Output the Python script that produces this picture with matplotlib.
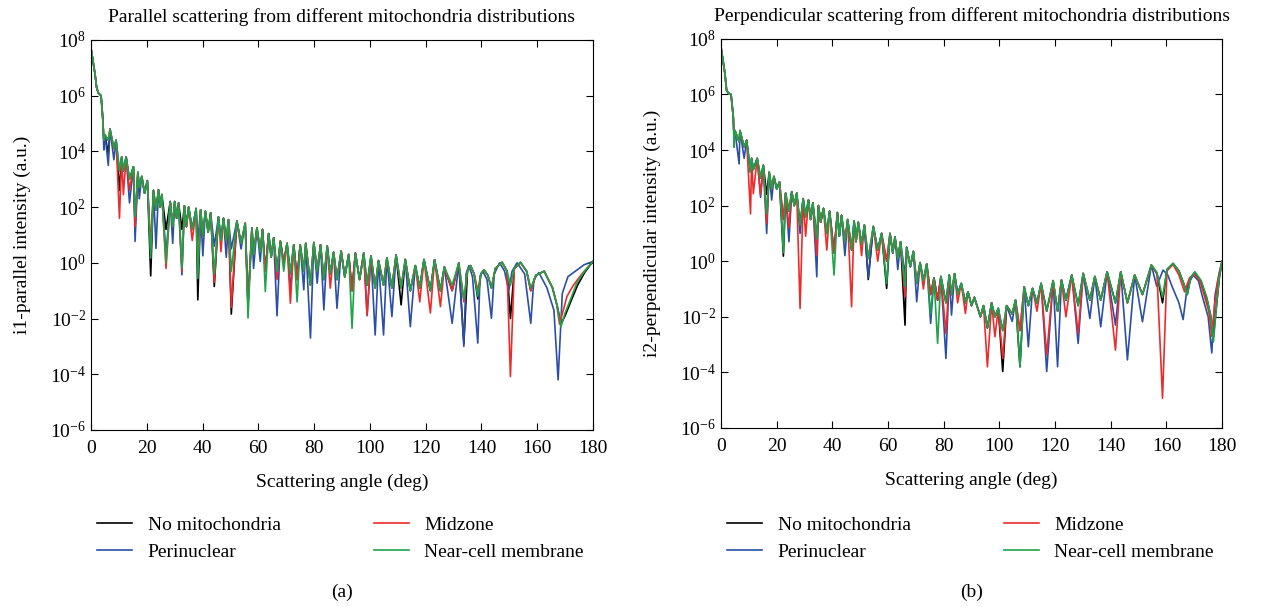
import numpy as np
import matplotlib
matplotlib.use("Agg")
import matplotlib.pyplot as plt

plt.rcParams["font.family"] = ["Liberation Serif", "DejaVu Serif"]
plt.rcParams["mathtext.fontset"] = "stix"

names = ["No mitochondria", "Perinuclear", "Midzone", "Near-cell membrane"]
colors = ["#000000", "#2b4fa8", "#ee2b2b", "#1ea34a"]

# ---------------- panel (a): parallel, values are log10(intensity) ----------------
a_peak_ang = [0, 1.4, 2.0, 2.6, 3.6, 4.2, 5.0, 6.8, 9.0, 11.0, 12.6, 15.2, 16.8, 18.2, 20.2,
              22.4, 24.2, 25.4, 28.4, 30.0, 31.4, 33.5, 35.0, 37.7, 39.3, 41.0, 42.9, 45.7,
              47.5, 49.3, 52.3, 55.3, 57.7, 59.5, 61.5, 63.7, 65.5, 67.9, 70.3, 72.7, 75.0,
              77.0, 79.9, 82.3, 84.7, 87.0, 89.7, 92.4, 94.8, 97.8, 100.4, 103.1, 106.1,
              109.4, 112.7, 116.3, 119.4, 123.2, 126.7, 131.9]
a_peak_val = [7.7, 6.8, 6.3, 6.1, 6.0, 5.2, 4.6, 4.8, 4.4, 3.8, 3.8, 3.45, 3.25, 3.1, 2.95,
              2.6, 2.62, 2.45, 2.2, 2.2, 2.15, 2.05, 2.0, 1.95, 1.9, 1.85, 1.8, 1.65,
              1.6, 1.55, 1.5, 1.42, 1.25, 1.26, 1.2, 1.05, 0.9, 0.78, 0.7, 0.65, 0.65,
              0.7, 0.73, 0.65, 0.6, 0.38, 0.42, 0.3, 0.35, 0.35, 0.25, 0.08, 0.18,
              0.28, 0.12, -0.1, 0.12, 0.11, -0.15, 0.0]
a_dip_ang = [4.6, 6.2, 8.2, 10.2, 11.6, 13.8, 15.8, 17.3, 19.2, 21.4, 23.3, 24.8, 26.9, 29.3,
             30.7, 32.6, 34.2, 36.3, 38.3, 40.1, 42.0, 44.2, 46.6, 48.5, 50.3, 53.8, 56.3,
             58.3, 60.7, 62.5, 64.6, 66.7, 69.1, 71.5, 73.9, 76.3, 78.7, 81.1, 83.5, 85.8,
             88.2, 91.0, 93.6, 96.3, 99.0, 101.9, 104.9, 107.9, 111.2, 114.5, 117.9, 121.7,
             125.3, 129.5]
a_dip_val = [4.4, 4.4, 4.1, 3.3, 3.3, 3.0, 2.6, 2.7, 2.5, 1.5, 1.9, 2.0, 1.2, 1.3,
             1.6, 1.2, 1.3, 1.2, 0.8, 1.0, 1.1, 0.6, 0.8, 0.8, 0.5, 0.7, -1.5,
             0.3, 0.4, -0.3, 0.2, -0.3, 0.0, -0.4, -0.6, -0.3, -0.8, -0.3, -0.6, -0.4,
             -0.6, -0.5, -1.0, -0.6, -0.8, -0.9, -0.8, -0.9, -0.9, -1.0, -0.9, -1.0,
             -1.0, -1.0]
a_deep = {
    "No mitochondria": {6.2: 3.9, 10.2: 2.6, 15.8: 1.3, 21.4: -0.47, 38.3: -1.33, 44.2: -0.85,
                        50.3: -1.84, 111.2: -1.51},
    "Perinuclear": {4.6: 4.05, 6.2: 3.5, 8.2: 3.7, 13.8: 2.15, 15.8: 0.77, 17.3: 2.3, 21.4: 0.5,
                    23.3: 0.52, 26.9: 0.3, 29.3: 0.7, 32.6: -0.43, 40.1: 0.25, 48.5: 0.2,
                    53.8: 0.5, 58.3: -0.2, 60.7: 0.05, 66.7: -1.9, 71.5: -1.0, 76.3: -0.97,
                    78.7: -2.7, 81.1: -0.73, 83.5: -1.69, 88.2: -1.63, 99.0: -1.9,
                    101.9: -2.59, 104.9: -2.59, 107.9: -1.93, 114.5: -2.29, 129.5: -2.17},
    "Midzone": {10.2: 1.6, 11.6: 2.45, 13.8: 2.6, 15.8: 1.3, 21.4: 0.5, 26.9: -0.2, 32.6: -0.3,
                36.3: 0.8, 38.3: -0.3, 44.2: -0.7, 46.6: 0.4, 50.3: -1.6, 66.7: -0.6,
                71.5: -1.45, 85.8: -0.91, 99.0: -1.87, 117.9: -1.4, 121.7: -1.8, 125.3: -1.57},
    "Near-cell membrane": {15.8: 1.66, 21.4: 0.17, 26.9: 0.0, 32.6: -0.2, 38.3: -0.56, 44.2: -0.4,
                           50.3: -0.3, 56.3: -1.98, 62.5: -1.03, 69.1: -0.3, 73.9: -1.4,
                           93.6: -2.35, 129.5: -0.8},
}
a_tail_start = 133
a_tail = {
    "No mitochondria": ([133.7, 135.0, 136.1, 137.4, 138.7, 139.8, 140.9, 142.3, 143.6, 145.0,
                         147.4, 149.2, 150.4, 151.8, 154.0, 156.2, 157.7, 159.5, 162.5, 165.5,
                         167.3, 168.5, 170.0, 172.0, 174.5, 177.0, 180],
                        [-2.9, -0.3, -0.1, -0.4, -1.3, -0.4, -0.25, -0.45, -0.91, -0.2,
                         0.02, -0.3, -2.0, -0.2, 0.02, -0.3, -1.0, -0.45, -0.3, -0.9,
                         -1.6, -2.2, -1.9, -1.4, -0.8, -0.35, 0.05]),
    "Perinuclear": ([133.7, 134.5, 135.5, 136.8, 138.7, 139.5, 140.5, 142.0, 143.6, 144.6,
                     146.5, 148.3, 149.8, 151.0, 152.8, 155.5, 157.7, 158.8, 160.6, 163.5,
                     166.0, 167.5, 169.0, 171.0, 174.4, 176.8, 180],
                    [-3.0, -0.4, -0.1, -0.5, -2.88, -0.5, -0.3, -0.6, -1.99, -0.4,
                     0.0, -0.3, -1.0, -0.3, 0.0, -0.4, -2.17, -0.6, -0.35, -0.9,
                     -1.7, -4.2, -1.1, -0.5, -0.25, -0.07, 0.05]),
    "Midzone": ([133.7, 135.0, 136.1, 137.4, 138.7, 139.8, 140.9, 142.3, 143.6, 145.0,
                 147.4, 149.2, 150.4, 151.8, 154.0, 156.2, 157.7, 159.5, 162.5, 165.5,
                 167.0, 168.0, 170.7, 173.0, 176.0, 180],
                [-1.4, -0.3, -0.1, -0.4, -1.0, -0.4, -0.25, -0.45, -0.9, -0.2,
                 0.02, -0.3, -4.08, -0.2, 0.0, -0.3, -1.0, -0.45, -0.3, -0.9,
                 -1.5, -2.2, -1.2, -0.8, -0.4, 0.05]),
    "Near-cell membrane": ([133.7, 135.0, 136.1, 137.4, 138.7, 139.8, 140.9, 142.3, 143.6, 145.0,
                            147.4, 149.2, 150.4, 151.8, 154.0, 156.2, 157.7, 159.5, 162.5, 165.5,
                            167.3, 168.5, 170.0, 172.0, 174.3, 177.0, 180],
                           [-1.3, -0.3, -0.1, -0.4, -1.2, -0.4, -0.25, -0.45, -0.91, -0.2,
                            0.02, -0.3, -0.8, -0.2, 0.02, -0.3, -0.9, -0.45, -0.3, -0.9,
                            -1.6, -2.3, -1.8, -1.3, -0.7, -0.3, 0.05]),
}

# ---------------- panel (b): perpendicular ----------------
b_peak_ang = [0, 1.4, 2.0, 2.6, 3.6, 4.4, 5.0, 6.8, 9.2, 11.0, 13.0, 15.2, 17.3, 19.0, 21.0,
              23.2, 25.4, 27.2, 29.5, 31.4, 33.0, 35.0, 36.8, 39.0, 41.8, 43.3, 45.5, 47.8,
              49.3, 51.5, 54.7, 57.7, 60.7, 62.5, 64.5, 66.7, 69.1, 71.5, 73.9, 76.5, 79.0,
              82.0, 83.9, 86.3, 88.7, 91.0, 94.3, 97.2, 99.6, 102.6, 105.8, 108.9, 111.9,
              115.0, 119.3, 122.3, 126.0, 130.1, 134.3, 138.7, 143.6, 148.6, 154.6]
b_peak_val = [7.7, 6.75, 6.15, 6.05, 6.0, 5.2, 4.7, 4.7, 4.35, 3.7, 3.7, 3.45, 3.2, 3.05, 2.85,
              2.45, 2.5, 2.45, 2.25, 2.2, 2.1, 2.0, 1.9, 1.8, 1.75, 1.65, 1.5, 1.45,
              1.4, 1.3, 1.25, 1.0, 1.0, 0.87, 0.7, 0.5, 0.35, -0.05, -0.1, -0.6, -0.55,
              -0.5, -0.45, -0.8, -1.1, -1.3, -1.6, -1.5, -1.7, -1.6, -1.4, -0.92, -0.98,
              -0.8, -0.7, -0.68, -0.5, -0.44, -0.55, -0.38, -0.38, -0.5, -0.14]
b_dip_ang = [4.7, 6.5, 8.3, 10.6, 11.6, 14.2, 16.4, 18.2, 20.0, 22.4, 24.4, 26.3, 28.4, 30.4,
             32.2, 34.4, 35.8, 38.0, 40.6, 42.5, 44.5, 46.9, 48.5, 50.5, 52.9, 56.3, 59.5,
             61.7, 63.5, 66.1, 68.0, 70.3, 72.7, 75.3, 77.8, 80.8, 82.8, 85.0, 87.8, 90.0,
             93.2, 95.7, 98.4, 101.2, 104.6, 107.4, 110.4, 113.5, 117.0, 120.9, 123.9,
             128.3, 132.5, 136.4, 141.7, 146.0, 151.4]
b_dip_val = [4.4, 4.3, 4.1, 3.2, 3.3, 3.0, 2.4, 2.6, 2.6, 1.5, 1.8, 2.0, 1.3, 1.6,
             1.5, 0.8, 1.4, 1.0, 0.3, 0.9, 0.7, 0.4, 0.7, 0.6, 0.1, 0.4, 0.0,
             0.3, 0.1, -0.5, -0.2, -0.8, -0.7, -1.2, -1.4, -1.5, -1.2, -1.2, -1.5, -1.6,
             -2.0, -2.4, -2.0, -2.5, -1.9, -2.5, -1.6, -1.5, -1.8, -1.8, -1.4,
             -1.6, -1.4, -1.4, -1.5, -1.5, -1.2]
b_deep = {
    "No mitochondria": {22.4: 0.18, 52.9: -0.66, 59.5: -0.98, 66.1: -2.3, 101.2: -3.97, 107.4: -3.8},
    "Perinuclear": {6.5: 3.5, 8.3: 3.7, 14.2: 2.3, 16.4: 1.0, 18.2: 2.2, 24.4: 0.7, 28.4: 1.0,
                    34.4: -0.56, 44.5: 0.2, 52.9: -0.6, 63.5: -0.3, 70.3: -1.46, 75.3: -2.24,
                    80.8: -3.5, 82.8: -1.94, 104.6: -2.17, 110.4: -3.08, 117.0: -3.97,
                    120.9: -3.8, 128.3: -2.96, 132.5: -2.06, 136.4: -2.36, 141.7: -2.3,
                    146.0: -3.55, 151.4: -2.18},
    "Midzone": {10.6: 1.7, 11.6: 2.43, 14.2: 2.4, 16.4: 1.35, 24.4: 1.2, 28.4: -1.7, 30.4: 0.9,
                34.4: 0.2, 38.0: 0.4, 46.9: -1.64, 50.5: 0.2, 56.3: 0.0, 66.1: -1.28, 72.7: -1.0,
                80.8: -2.6, 85.0: -1.5, 87.8: -1.88, 95.7: -3.8, 98.4: -2.72, 101.2: -3.5,
                113.5: -1.8, 117.0: -3.38, 123.9: -2.0, 128.3: -2.6, 141.7: -3.2},
    "Near-cell membrane": {4.7: 4.1, 16.4: 1.71, 22.4: 0.3, 40.6: -0.5, 59.5: -0.8, 66.1: -0.9,
                           75.3: -1.9, 77.8: -2.96, 107.4: -3.8},
}
b_tail_start = 156
b_tail = {
    "No mitochondria": ([156.6, 158.6, 160.2, 162.4, 164.5, 166.2, 167.5, 168.7, 170.2, 172.5,
                         174.5, 176.0, 176.9, 178.0, 179.0, 180],
                        [-0.45, -1.5, -0.3, -0.08, -0.35, -0.8, -1.2, -0.6, -0.4, -0.75,
                         -1.35, -2.0, -2.7, -1.6, -0.6, 0.0]),
    "Perinuclear": ([156.5, 158.8, 160.5, 162.0, 164.5, 166.0, 167.5, 169.6, 171.5, 173.0,
                     175.0, 176.3, 177.5, 179.0, 180],
                    [-0.9, -0.32, -0.5, -0.9, -1.5, -2.1, -0.9, -0.5, -0.7, -1.3,
                     -2.0, -3.3, -1.2, -0.4, 0.0]),
    "Midzone": ([156.6, 158.6, 160.2, 162.4, 164.5, 166.5, 168.3, 170.0, 172.0, 173.5,
                 175.2, 176.3, 177.3, 178.5, 180],
                [-0.45, -4.93, -0.35, -0.12, -0.5, -1.1, -0.6, -0.45, -0.7, -1.2,
                 -1.8, -2.7, -1.6, -0.7, 0.0]),
    "Near-cell membrane": ([156.6, 158.6, 160.2, 162.4, 164.5, 166.2, 167.5, 168.7, 170.2, 172.5,
                            174.5, 176.0, 176.9, 178.0, 179.0, 180],
                           [-0.4, -1.3, -0.3, -0.08, -0.35, -0.8, -1.2, -0.6, -0.38, -0.7,
                            -1.3, -2.0, -2.9, -1.6, -0.6, 0.0]),
}


def build(name, peak_ang, peak_val, dip_ang, dip_val, deep, tail, tail_start):
    pts = {a: v for a, v in zip(peak_ang, peak_val) if a < tail_start}
    dips = dict(zip(dip_ang, dip_val))
    dips.update(deep[name])
    pts.update({a: v for a, v in dips.items() if a < tail_start})
    pts.update(zip(*tail[name]))
    ang = sorted(pts)
    return np.array(ang), 10.0 ** np.array([pts[a] for a in ang])


fig = plt.figure(figsize=(12.73, 6.07), dpi=100)
ax_a = fig.add_axes([0.0715, 0.2916, 0.3943, 0.6426])
ax_b = fig.add_axes([0.5664, 0.2950, 0.3936, 0.6410])

panels = [
    (ax_a, a_peak_ang, a_peak_val, a_dip_ang, a_dip_val, a_deep, a_tail, a_tail_start,
     "Parallel scattering from different mitochondria distributions",
     "i1-parallel intensity (a.u.)", "(a)", 0.0762),
    (ax_b, b_peak_ang, b_peak_val, b_dip_ang, b_dip_val, b_deep, b_tail, b_tail_start,
     "Perpendicular scattering from different mitochondria distributions",
     "i2-perpendicular intensity (a.u.)", "(b)", 0.5711),
]

for ax, pa, pv, da, dv, deep, tail, ts, title, ylab, tag, legx in panels:
    for name, col in zip(names, colors):
        x, y = build(name, pa, pv, da, dv, deep, tail, ts)
        ax.plot(x, y, color=col, lw=1.2, label=name)
    ax.set_yscale("log")
    ax.set_xlim(0, 180)
    ax.set_ylim(1e-6, 1e8)
    ax.set_xticks(range(0, 181, 20))
    ax.set_yticks([10.0 ** k for k in range(-6, 9, 2)])
    ax.minorticks_off()
    ax.tick_params(direction="in", top=True, right=True, length=5, labelsize=14)
    ax.tick_params(axis="x", pad=7)
    ax.set_title(title, fontsize=14, pad=13)
    ax.set_xlabel("Scattering angle (deg)", fontsize=14, labelpad=12)
    ax.set_ylabel(ylab, fontsize=14, labelpad=14)
    ax.legend(loc="upper left", bbox_to_anchor=(legx, 0.150), bbox_transform=fig.transFigure,
              ncol=2, frameon=False, fontsize=14, handlelength=1.8, handletextpad=0.8,
              columnspacing=4.8, labelspacing=0.5, borderpad=0, borderaxespad=0)
    pos = ax.get_position()
    fig.text((pos.x0 + pos.x1) / 2, 1 - 592 / 607, tag, ha="center", va="center", fontsize=14)

fig.savefig("out.png", dpi=100)
